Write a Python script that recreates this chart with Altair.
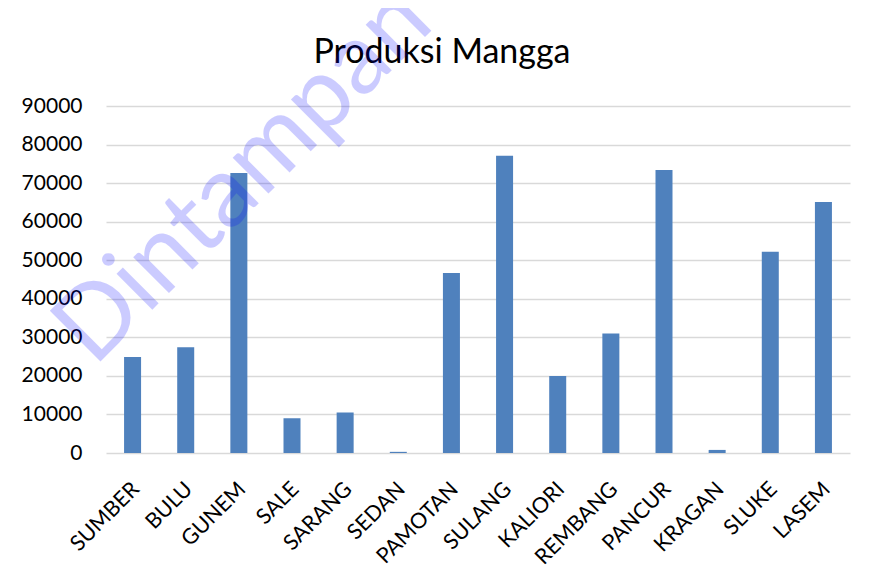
import altair as alt
import pandas as pd

kecamatan = ["SUMBER", "BULU", "GUNEM", "SALE", "SARANG", "SEDAN", "PAMOTAN",
             "SULANG", "KALIORI", "REMBANG", "PANCUR", "KRAGAN", "SLUKE", "LASEM"]
produksi = [24900, 27400, 72600, 9000, 10500, 300, 46700,
            77100, 20000, 31000, 73400, 800, 52200, 65100]
y_ticks = [0, 10000, 20000, 30000, 40000, 50000, 60000, 70000, 80000, 90000]
judul = ["Produksi Mangga"]
tanda_air = ["Dintampan"]

df = pd.DataFrame({"Kecamatan": kecamatan, "Produksi": produksi})

FONT = "Lato"

bars = alt.Chart(df).mark_bar(color="#4f81bd").encode(
    x=alt.X("Kecamatan:N", sort=kecamatan, title=None,
            scale=alt.Scale(paddingInner=0.68, paddingOuter=0.34),
            axis=alt.Axis(labelAngle=315, labelFontSize=21.5, labelFont=FONT,
                          labelColor="#000000", ticks=False, domain=False,
                          labelPadding=25, labelOffset=-4, grid=False)),
    y=alt.Y("Produksi:Q", title=None,
            scale=alt.Scale(domain=[0, 90000], nice=False),
            axis=alt.Axis(values=y_ticks, format="d", labelFontSize=21,
                          labelFont=FONT, labelColor="#000000", ticks=False,
                          domain=False, labelPadding=24, gridColor="#d9d9d9",
                          gridWidth=1.5)),
)

title = alt.Chart(pd.DataFrame({"t": judul})).mark_text(
    align="center", baseline="alphabetic", fontSize=34, font=FONT,
    color="#000000", clip=False
).encode(
    text="t:N",
    x=alt.value(336),
    y=alt.value(-43),
)

watermark = alt.Chart(pd.DataFrame({"t": tanda_air})).mark_text(
    align="left", baseline="alphabetic", angle=315, fontSize=100, font=FONT,
    color="#0000ff", opacity=0.2, clip=False
).encode(
    text="t:N",
    x=alt.value(-12),
    y=alt.value(262),
)

chart = alt.layer(bars, title, watermark).properties(
    width=744,
    height=347,
    autosize=alt.AutoSizeParams(type="none"),
    padding={"left": 98, "top": 98, "right": 20, "bottom": 120},
).configure_view(stroke=None)

chart.save("out.html", embed_options={"renderer": "svg", "actions": False})
